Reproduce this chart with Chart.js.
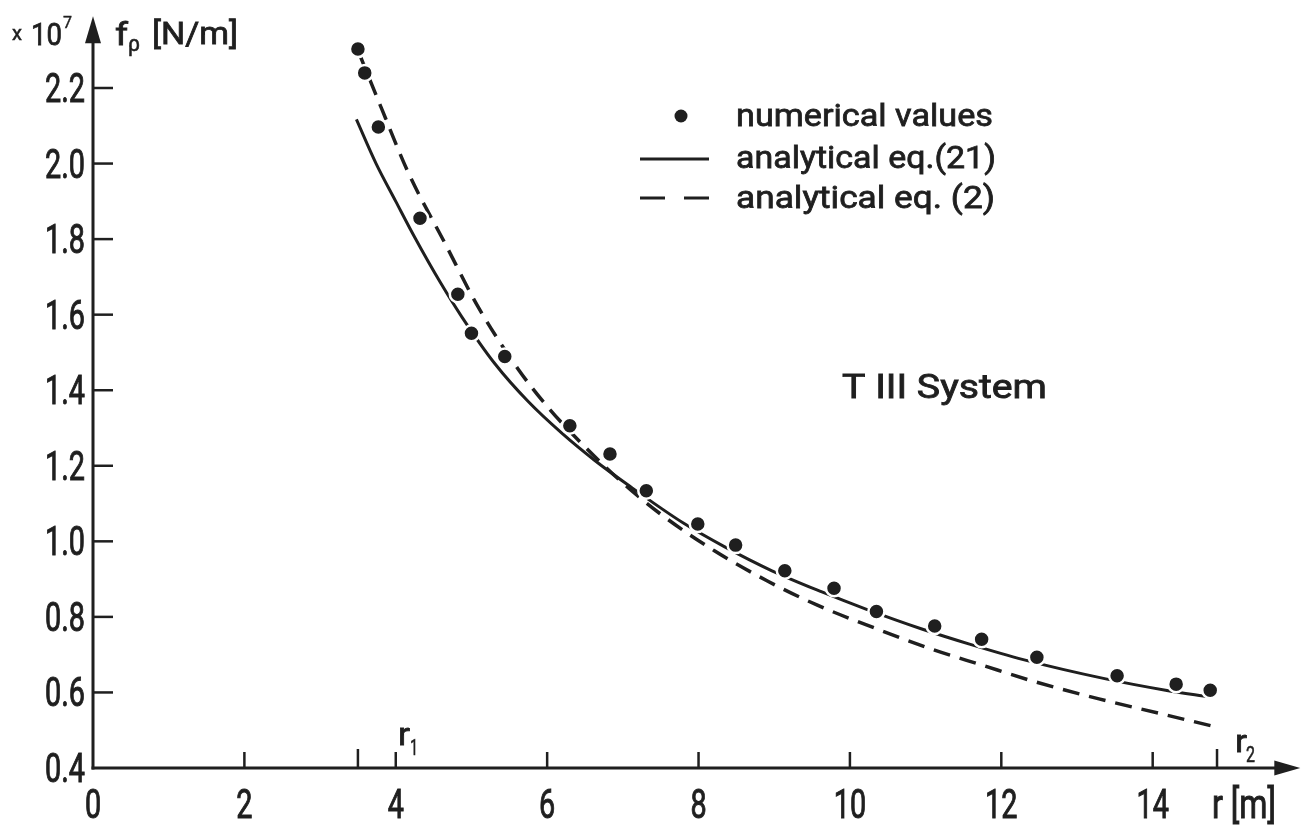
<!DOCTYPE html>
<html>
<head>
<meta charset="utf-8">
<script src="https://cdn.jsdelivr.net/npm/chart.js@4.4.1/dist/chart.umd.min.js"></script>
<style>
  html, body { margin: 0; background: #fff; }
  #wrap { width: 1307px; height: 828px; }
</style>
</head>
<body>
<div id="wrap"><canvas id="chart"></canvas></div>
<script>
// radius r [m] against centripetal force f_rho [x 1e7 N/m], T III system
const numR = [3.50, 3.59, 3.77, 4.32, 4.82, 5.00, 5.44, 6.30, 6.83, 7.31, 7.99, 8.49, 9.14, 9.79, 10.35, 11.12, 11.74, 12.47, 13.53, 14.31, 14.76]
const numF = [2.303, 2.240, 2.097, 1.855, 1.654, 1.551, 1.489, 1.306, 1.231, 1.134, 1.046, 0.990, 0.922, 0.876, 0.814, 0.776, 0.741, 0.693, 0.644, 0.622, 0.606]

// analytical eq. (21)
const eq21R = [3.48, 3.74, 4.00, 4.25, 4.59, 4.87, 5.31, 5.75, 6.19, 6.63, 7.07, 7.81, 8.34, 8.97, 9.63, 10.22, 10.95, 11.58, 12.29, 13.38, 14.17, 14.75]
const eq21F = [2.117, 2.000, 1.900, 1.805, 1.685, 1.595, 1.470, 1.370, 1.287, 1.214, 1.149, 1.047, 0.986, 0.922, 0.866, 0.820, 0.768, 0.728, 0.687, 0.636, 0.606, 0.588]

// analytical eq. (2)
const eq2R = [3.52, 3.82, 4.17, 4.65, 5.09, 5.62, 6.01, 6.50, 6.98, 7.50, 8.21, 8.91, 9.57, 10.36, 11.06, 11.75, 12.45, 13.29, 14.08, 14.83]
const eq2F = [2.290, 2.142, 1.974, 1.789, 1.620, 1.455, 1.355, 1.250, 1.158, 1.072, 0.975, 0.895, 0.831, 0.768, 0.716, 0.672, 0.628, 0.583, 0.545, 0.509]

const yTicks = [0.4, 0.6, 0.8, 1.0, 1.2, 1.4, 1.6, 1.8, 2.0, 2.2]
const yTickLabels = ['0.4', '0.6', '0.8', '1.0', '1.2', '1.4', '1.6', '1.8', '2.0', '2.2']
const xTicks = [0, 2, 4, 6, 8, 10, 12, 14]
const xTickLabels = ['0', '2', '4', '6', '8', '10', '12', '14']
const rInner = 3.5
const rOuter = 14.85

const INK = '#1f1f1f'
const pts = (xs, ys) => xs.map((x, i) => ({ x, y: ys[i] }))

// condensed lettering: Roboto squeezed horizontally, lightly stroked
function text(ctx, s, x, y, size, opts) {
  const o = Object.assign({ k: 0.72, align: 'left', width: null }, opts)
  ctx.save()
  ctx.font = size + 'px Roboto'
  ctx.textAlign = o.align
  ctx.textBaseline = 'alphabetic'
  const k = o.width ? o.width / ctx.measureText(s).width : o.k
  ctx.translate(x, y)
  ctx.scale(k, 1)
  ctx.fillStyle = INK
  ctx.strokeStyle = INK
  ctx.lineWidth = size / 40
  ctx.fillText(s, 0, 0)
  ctx.strokeText(s, 0, 0)
  ctx.restore()
}

function line(ctx, x1, y1, x2, y2, w, dash) {
  ctx.save()
  ctx.strokeStyle = INK
  ctx.lineWidth = w
  ctx.setLineDash(dash || [])
  ctx.beginPath()
  ctx.moveTo(x1, y1)
  ctx.lineTo(x2, y2)
  ctx.stroke()
  ctx.restore()
}

function arrow(ctx, tx, ty, dx, dy, len, half) {
  // dx/dy: unit direction of the arrow
  ctx.save()
  ctx.fillStyle = INK
  ctx.beginPath()
  ctx.moveTo(tx, ty)
  ctx.lineTo(tx - dx * len - dy * half, ty - dy * len + dx * half)
  ctx.lineTo(tx - dx * len + dy * half, ty - dy * len - dx * half)
  ctx.closePath()
  ctx.fill()
  ctx.restore()
}

const paperAxes = {
  id: 'paperAxes',
  beforeDraw(chart) {
    const ctx = chart.ctx
    ctx.save()
    ctx.fillStyle = '#fff'
    ctx.fillRect(0, 0, chart.width, chart.height)
    ctx.restore()
  },
  beforeDatasetsDraw(chart) {
    const { ctx, scales: { x, y } } = chart
    const x0 = x.getPixelForValue(0)
    const y0 = y.getPixelForValue(0.4)
    const yTop = y.getPixelForValue(2.39)
    const xEnd = x.getPixelForValue(15.95)

    // axes with arrow heads
    line(ctx, x0, y0 + 1.5, x0, yTop + 20, 3)
    arrow(ctx, x0, yTop, 0, -1, 27, 8)
    line(ctx, x0 - 1.5, y0, xEnd - 20, y0, 3)
    arrow(ctx, xEnd, y0, 1, 0, 26, 7.5)

    // y ticks point into the plot
    yTicks.forEach((v, i) => {
      const py = y.getPixelForValue(v)
      if (v > 0.4) line(ctx, x0, py, x0 + 20, py, 2.5)
      text(ctx, yTickLabels[i], x0 - 8, py + 14, 40, { align: 'right' })
    })

    // x ticks stand up from the axis
    xTicks.forEach((u, i) => {
      const px = x.getPixelForValue(u)
      if (u > 0) line(ctx, px, y0, px, y0 - 16, 2.5)
      text(ctx, xTickLabels[i], px, y0 + 50, 40, { align: 'center' })
    })
    ;[rInner, rOuter].forEach((u) => {
      const px = x.getPixelForValue(u)
      line(ctx, px, y0, px, y0 - 19, 2.5)
    })
  },
  afterDraw(chart) {
    const { ctx, scales: { x, y } } = chart
    const y0 = y.getPixelForValue(0.4)

    // axis titles
    text(ctx, 'x', 12, 40, 21, { width: 10 })
    text(ctx, '10', 31, 45, 32, { width: 31 })
    text(ctx, '7', 63, 28, 17, { width: 9 })
    text(ctx, 'f', 115, 45, 31, { width: 13 })
    text(ctx, 'ρ', 128, 51, 22, { width: 12 })
    text(ctx, '[N/m]', 152, 44, 31, { width: 86 })
    text(ctx, 'r [m]', 1212, y0 + 50, 40, { width: 64 })

    // r1 / r2 markers
    const p1 = x.getPixelForValue(rInner)
    text(ctx, 'r', p1 + 40, y0 - 23, 31, { width: 12 })
    text(ctx, '1', p1 + 52, y0 - 13, 22, { width: 8 })
    const p2 = x.getPixelForValue(rOuter)
    text(ctx, 'r', p2 + 18, y0 - 16, 31, { width: 12 })
    text(ctx, '2', p2 + 29, y0 - 6, 22, { width: 9 })

    // legend
    ctx.save()
    ctx.fillStyle = INK
    ctx.beginPath()
    ctx.arc(681, 116, 6.5, 0, Math.PI * 2)
    ctx.fill()
    ctx.restore()
    line(ctx, 640, 159, 709, 159, 3)
    line(ctx, 640, 198, 665, 198, 3)
    line(ctx, 684, 198, 709, 198, 3)
    text(ctx, 'numerical values', 736, 126, 31, { width: 257 })
    text(ctx, 'analytical eq.(21)', 736, 168, 31, { width: 260 })
    text(ctx, 'analytical eq. (2)', 736, 208, 31, { width: 259 })

    text(ctx, 'T III System', 842, 398, 33, { width: 205 })
  }
}

new Chart(document.getElementById('chart'), {
  type: 'scatter',
  data: {
    datasets: [
      {
        label: 'numerical values',
        data: pts(numR, numF),
        showLine: false,
        pointRadius: 8,
        pointBackgroundColor: INK,
        pointBorderColor: '#fff',
        pointBorderWidth: 2.5,
      },
      {
        label: 'analytical eq.(21)',
        data: pts(eq21R, eq21F),
        showLine: true,
        borderColor: INK,
        borderWidth: 3,
        pointRadius: 0,
        cubicInterpolationMode: 'monotone',
      },
      {
        label: 'analytical eq. (2)',
        data: pts(eq2R, eq2F),
        showLine: true,
        borderColor: INK,
        borderWidth: 3.5,
        borderDash: [17, 10],
        pointRadius: 0,
        cubicInterpolationMode: 'monotone',
      },
    ],
  },
  options: {
    responsive: true,
    maintainAspectRatio: false,
    animation: false,
    events: [],
    layout: { padding: { left: 93, right: 5.6, top: 20, bottom: 60 } },
    scales: {
      x: { type: 'linear', min: 0, max: 15.9, display: false },
      y: { type: 'linear', min: 0.4, max: 2.38, display: false },
    },
    plugins: {
      legend: { display: false },
      tooltip: { enabled: false },
    },
  },
  plugins: [paperAxes],
})
</script>
</body>
</html>
